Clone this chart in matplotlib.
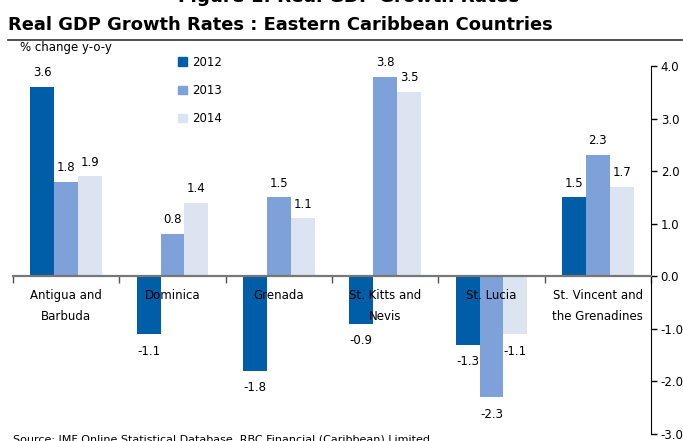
import numpy as np
import matplotlib
matplotlib.use('Agg')
import matplotlib.pyplot as plt
from matplotlib.patches import Patch

# GDP growth, % change y-o-y
countries = ['Antigua and\nBarbuda', 'Dominica', 'Grenada', 'St. Kitts and\nNevis',
             'St. Lucia', 'St. Vincent and\nthe Grenadines']
years = ['2012', '2013', '2014']
g2012 = [3.6, -1.1, -1.8, -0.9, -1.3, 1.5]
g2013 = [1.8, 0.8, 1.5, 3.8, -2.3, 2.3]
g2014 = [1.9, 1.4, 1.1, 3.5, -1.1, 1.7]
yticks = [4.0, 3.0, 2.0, 1.0, 0.0, -1.0, -2.0, -3.0]

colors = ['#005EA8', '#7EA1D9', '#DCE4F2']

plt.rcParams['font.family'] = ['DejaVu Sans']

fig = plt.figure(figsize=(6.83, 4.41), dpi=100)
ax = fig.add_axes([13/683, 1 - 434/441, (651 - 13)/683, (434 - 66)/441])

x = np.arange(len(countries))
w = 0.225
series = [g2012, g2013, g2014]
for k, vals in enumerate(series):
    pos = x + (k - 1) * w
    ax.bar(pos, vals, width=w, color=colors[k], zorder=2, label=years[k])
    for xp, v in zip(pos, vals):
        if v >= 0:
            ax.text(xp, v + 0.15, f'{v:.1f}', ha='center', va='bottom', fontsize=8.5)
        else:
            ax.text(xp, v - 0.2, f'{v:.1f}', ha='center', va='top', fontsize=8.5)

ax.set_xlim(-0.5, len(countries) - 0.5)
ax.set_ylim(-3, 4)

# zero line with downward ticks between groups
ax.spines['bottom'].set_position(('data', 0))
ax.spines['bottom'].set_color('#777777')
ax.spines['bottom'].set_linewidth(1.6)
ax.spines['bottom'].set_zorder(3)
ax.set_xticks(np.arange(-0.5, len(countries), 1.0))
ax.set_xticklabels([])
ax.tick_params(axis='x', direction='out', length=5, width=1, color='#555555')
for i, name in enumerate(countries):
    ax.text(i, -0.25, name, ha='center', va='top', fontsize=8.5, linespacing=1.75, zorder=4)

ax.spines['top'].set_visible(False)
ax.spines['left'].set_visible(False)
ax.yaxis.tick_right()
ax.set_yticks(yticks)
ax.set_yticklabels([f'{t:.1f}' for t in yticks])
ax.tick_params(axis='y', direction='out', length=4, width=1, labelsize=8.5, pad=3)

# legend as a column of squares
handles = [Patch(color=c) for c in colors]
ax.legend(handles, years, loc='upper left', bbox_to_anchor=(0.2424, 1.057), frameon=False,
          fontsize=8.5, handlelength=0.7, handleheight=0.7, handletextpad=0.45, labelspacing=1.3)

fig.text(20/683, 1 - 47/441, '% change y-o-y', fontsize=8.5, va='center', ha='left')
fig.text(349/683, 1 - 2.5/441, 'Figure 1: Real GDP Growth Rates', fontsize=13.2, fontweight='bold',
         ha='center', va='baseline')
fig.text(8/683, 1 - 25/441, 'Real GDP Growth Rates : Eastern Caribbean Countries', fontsize=12.9,
         fontweight='bold', ha='left', va='center')
fig.add_artist(plt.Line2D([8/683, 1], [1 - 40/441, 1 - 40/441], color='#333333', linewidth=1.2))
fig.text(13/683, 1 - 435/441, 'Source: IMF Online Statistical Database, RBC Financial (Caribbean) Limited',
         fontsize=8, ha='left', va='top')

fig.savefig('out.png', dpi=100)
